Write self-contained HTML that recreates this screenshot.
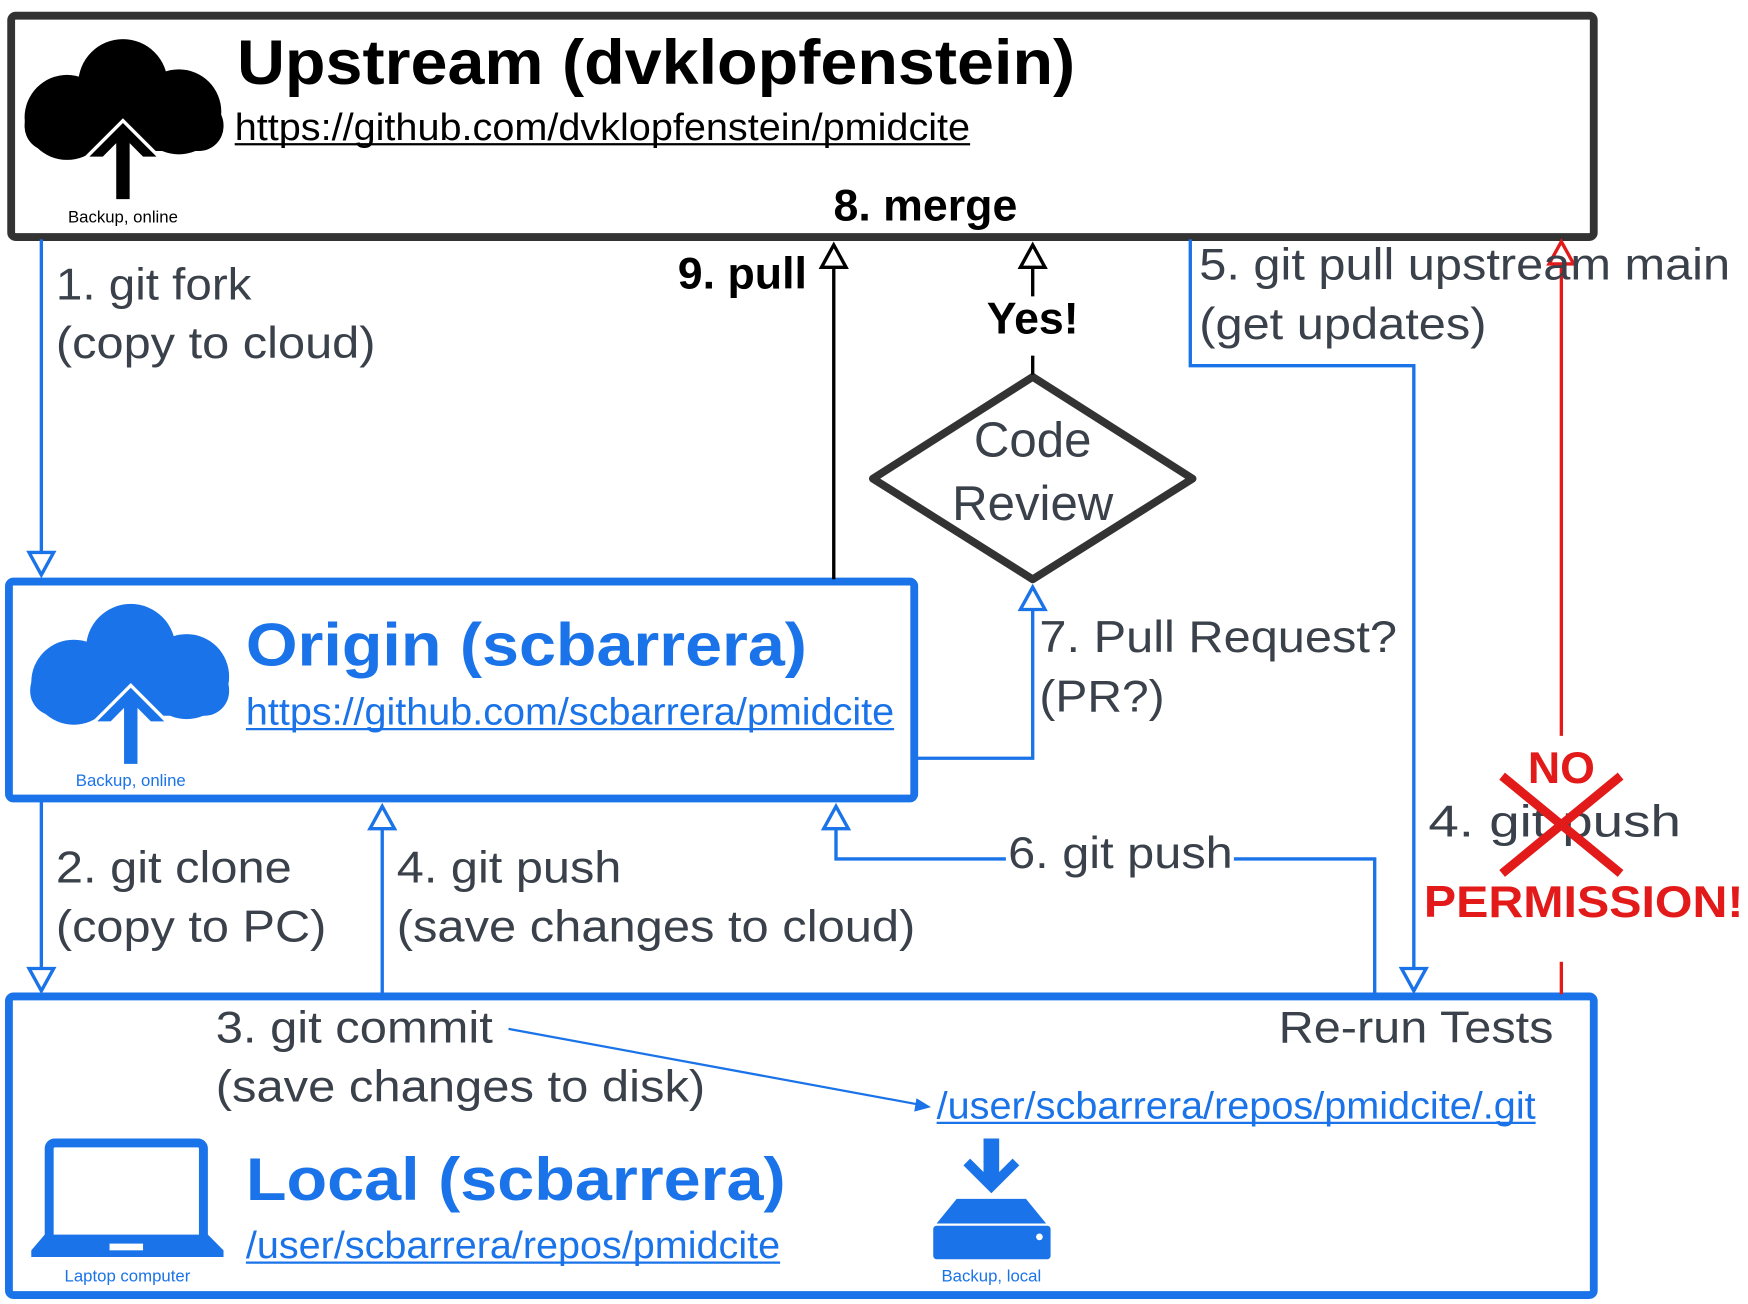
<!DOCTYPE html>
<html><head><meta charset="utf-8"><style>
html,body{margin:0;padding:0;background:#fff;}
svg{display:block;}
text{font-family:"Liberation Sans",sans-serif;}
</style></head><body>
<svg width="1748" height="1304" viewBox="0 0 1564 1166" preserveAspectRatio="none" xmlns="http://www.w3.org/2000/svg">
<rect width="1564" height="1166" fill="#fff"/>

<!-- Upstream box -->
<rect x="10" y="14" width="1416" height="198" rx="4" fill="#fff" stroke="#333" stroke-width="7"/>
<g fill="#000">
<circle cx="110" cy="75" r="40"/><circle cx="60" cy="105" r="38"/><circle cx="160" cy="100" r="38"/>
<rect x="22" y="90" width="178" height="45" rx="22"/>
</g>
<path d="M110 110 L80 140 L92 140 L104 128 L104 178 L116 178 L116 128 L128 140 L140 140 Z" fill="#000" stroke="#fff" stroke-width="6" paint-order="stroke" stroke-linejoin="miter"/>
<text x="110" y="199" font-size="15" text-anchor="middle" fill="#000">Backup, online</text>
<text x="212" y="75" font-size="56" font-weight="bold" fill="#000" textLength="750" lengthAdjust="spacingAndGlyphs">Upstream (dvklopfenstein)</text>
<text x="210" y="125" font-size="34" fill="#000" textLength="658" lengthAdjust="spacingAndGlyphs">https://github.com/dvklopfenstein/pmidcite</text>
<line x1="210" y1="129" x2="868" y2="129" stroke="#000" stroke-width="2"/>
<text x="828" y="197" font-size="40" font-weight="bold" text-anchor="middle" fill="#000">8. merge</text>

<!-- Origin box -->
<rect x="8" y="520" width="810" height="194" rx="4" fill="#fff" stroke="#1a73e8" stroke-width="7"/>
<g fill="#1a73e8">
<circle cx="117" cy="580" r="40"/><circle cx="66" cy="610" r="38"/><circle cx="167" cy="605" r="38"/>
<rect x="27" y="595" width="178" height="45" rx="22"/>
</g>
<path d="M117 615 L87 645 L99 645 L111 633 L111 683 L123 683 L123 633 L135 645 L147 645 Z" fill="#1a73e8" stroke="#fff" stroke-width="6" paint-order="stroke"/>
<text x="117" y="703" font-size="15" text-anchor="middle" fill="#1a73e8">Backup, online</text>
<text x="220" y="595" font-size="54" font-weight="bold" fill="#1a73e8" textLength="502" lengthAdjust="spacingAndGlyphs">Origin (scbarrera)</text>
<text x="220" y="648" font-size="34" fill="#1a73e8" textLength="580" lengthAdjust="spacingAndGlyphs">https://github.com/scbarrera/pmidcite</text>
<line x1="220" y1="652" x2="800" y2="652" stroke="#1a73e8" stroke-width="2"/>

<!-- Local box -->
<rect x="8" y="891" width="1418" height="267" rx="4" fill="#fff" stroke="#1a73e8" stroke-width="7"/>
<rect x="44" y="1022" width="138" height="90" rx="5" fill="none" stroke="#1a73e8" stroke-width="8"/>
<path d="M40 1104 L186 1104 L200 1118 L200 1124 L28 1124 L28 1118 Z" fill="#1a73e8"/>
<rect x="98" y="1112" width="30" height="6" fill="#fff"/>
<text x="114" y="1146" font-size="15" text-anchor="middle" fill="#1a73e8">Laptop computer</text>
<path d="M880 1018 L894 1018 L894 1048 L906 1036 L912 1042 L887 1067 L862 1042 L868 1036 L880 1048 Z" fill="#1a73e8"/>
<path d="M856 1072 L918 1072 L936 1094 L838 1094 Z" fill="#1a73e8"/>
<rect x="835" y="1096" width="105" height="30" rx="3" fill="#1a73e8"/>
<circle cx="930" cy="1106" r="3" fill="#fff"/>
<text x="887" y="1146" font-size="15" text-anchor="middle" fill="#1a73e8">Backup, local</text>
<text x="220" y="1073" font-size="54" font-weight="bold" fill="#1a73e8" textLength="483" lengthAdjust="spacingAndGlyphs">Local (scbarrera)</text>
<text x="220" y="1125" font-size="34" fill="#1a73e8" textLength="478" lengthAdjust="spacingAndGlyphs">/user/scbarrera/repos/pmidcite</text>
<line x1="220" y1="1129" x2="698" y2="1129" stroke="#1a73e8" stroke-width="2"/>
<text x="838" y="1000" font-size="34" fill="#1a73e8" textLength="536" lengthAdjust="spacingAndGlyphs">/user/scbarrera/repos/pmidcite/.git</text>
<line x1="838" y1="1004" x2="1374" y2="1004" stroke="#1a73e8" stroke-width="2"/>
<g fill="#3a414a" font-size="40">
<text x="193" y="932" textLength="248" lengthAdjust="spacingAndGlyphs">3. git commit</text>
<text x="193" y="985" textLength="438" lengthAdjust="spacingAndGlyphs">(save changes to disk)</text>
<text x="1390" y="932" text-anchor="end" textLength="246" lengthAdjust="spacingAndGlyphs">Re-run Tests</text>
</g>
<line x1="455" y1="920" x2="824" y2="988" stroke="#1a73e8" stroke-width="2"/>
<path d="M833 990 L820 982 L818 994 Z" fill="#1a73e8"/>

<!-- Diamond -->
<polygon points="924,337 1067,428 924,518 781,428" fill="#fff" stroke="#333" stroke-width="7" stroke-linejoin="round"/>
<text x="924" y="408" font-size="44" text-anchor="middle" fill="#3a414a">Code</text>
<text x="924" y="465" font-size="44" text-anchor="middle" fill="#3a414a">Review</text>

<g fill="none" stroke-width="3">
<line x1="37" y1="214" x2="37" y2="494" stroke="#1a73e8"/>
<polygon points="26,494 48,494 37,514" fill="#fff" stroke="#1a73e8"/>
<line x1="37" y1="717" x2="37" y2="866" stroke="#1a73e8"/>
<polygon points="26,866 48,866 37,886" fill="#fff" stroke="#1a73e8"/>
<line x1="342" y1="889" x2="342" y2="741" stroke="#1a73e8"/>
<polygon points="331,741 353,741 342,721" fill="#fff" stroke="#1a73e8"/>
<polyline points="1230,889 1230,768 1104,768" stroke="#1a73e8"/>
<polyline points="900,768 748,768 748,741" stroke="#1a73e8"/>
<polygon points="737,741 759,741 748,721" fill="#fff" stroke="#1a73e8"/>
<polyline points="820,678 924,678 924,545" stroke="#1a73e8"/>
<polygon points="913,545 935,545 924,525" fill="#fff" stroke="#1a73e8"/>
<polyline points="1065,214 1065,327 1265,327 1265,866" stroke="#1a73e8"/>
<polygon points="1254,866 1276,866 1265,886" fill="#fff" stroke="#1a73e8"/>
<line x1="746" y1="518" x2="746" y2="239" stroke="#000"/>
<polygon points="735,239 757,239 746,219" fill="#fff" stroke="#000"/>
<line x1="924" y1="335" x2="924" y2="318" stroke="#000"/>
<line x1="924" y1="265" x2="924" y2="239" stroke="#000"/>
<polygon points="913,239 935,239 924,219" fill="#fff" stroke="#000"/>
<line x1="1397" y1="889" x2="1397" y2="860" stroke="#e31a1a"/>
<line x1="1397" y1="658" x2="1397" y2="236" stroke="#e31a1a"/>
<polygon points="1386,236 1408,236 1397,216" fill="#fff" stroke="#e31a1a"/>
</g>

<g fill="#3a414a" font-size="40">
<text x="50" y="268" textLength="175" lengthAdjust="spacingAndGlyphs">1. git fork</text>
<text x="50" y="320" textLength="286" lengthAdjust="spacingAndGlyphs">(copy to cloud)</text>
<text x="50" y="789" textLength="211" lengthAdjust="spacingAndGlyphs">2. git clone</text>
<text x="50" y="842" textLength="242" lengthAdjust="spacingAndGlyphs">(copy to PC)</text>
<text x="355" y="789" textLength="201" lengthAdjust="spacingAndGlyphs">4. git push</text>
<text x="355" y="842" textLength="464" lengthAdjust="spacingAndGlyphs">(save changes to cloud)</text>
<text x="902" y="776" textLength="201" lengthAdjust="spacingAndGlyphs">6. git push</text>
<text x="930" y="583" textLength="320" lengthAdjust="spacingAndGlyphs">7. Pull Request?</text>
<text x="930" y="636" textLength="112" lengthAdjust="spacingAndGlyphs">(PR?)</text>
<text x="1073" y="250" textLength="475" lengthAdjust="spacingAndGlyphs">5. git pull upstream main</text>
<text x="1073" y="303" textLength="257" lengthAdjust="spacingAndGlyphs">(get updates)</text>
<text x="1278" y="748" textLength="226" lengthAdjust="spacingAndGlyphs">4. git push</text>
</g>
<text x="722" y="258" font-size="40" font-weight="bold" text-anchor="end" fill="#000">9. pull</text>
<text x="924" y="298" font-size="40" font-weight="bold" text-anchor="middle" fill="#000">Yes!</text>

<line x1="1344" y1="694" x2="1450" y2="781" stroke="#e31a1a" stroke-width="8"/>
<line x1="1450" y1="694" x2="1344" y2="781" stroke="#e31a1a" stroke-width="8"/>
<text x="1397" y="700" font-size="40" font-weight="bold" text-anchor="middle" fill="#e31a1a">NO</text>
<text x="1274" y="820" font-size="40" font-weight="bold" fill="#e31a1a" textLength="286" lengthAdjust="spacingAndGlyphs">PERMISSION!</text>
</svg>
</body></html>
